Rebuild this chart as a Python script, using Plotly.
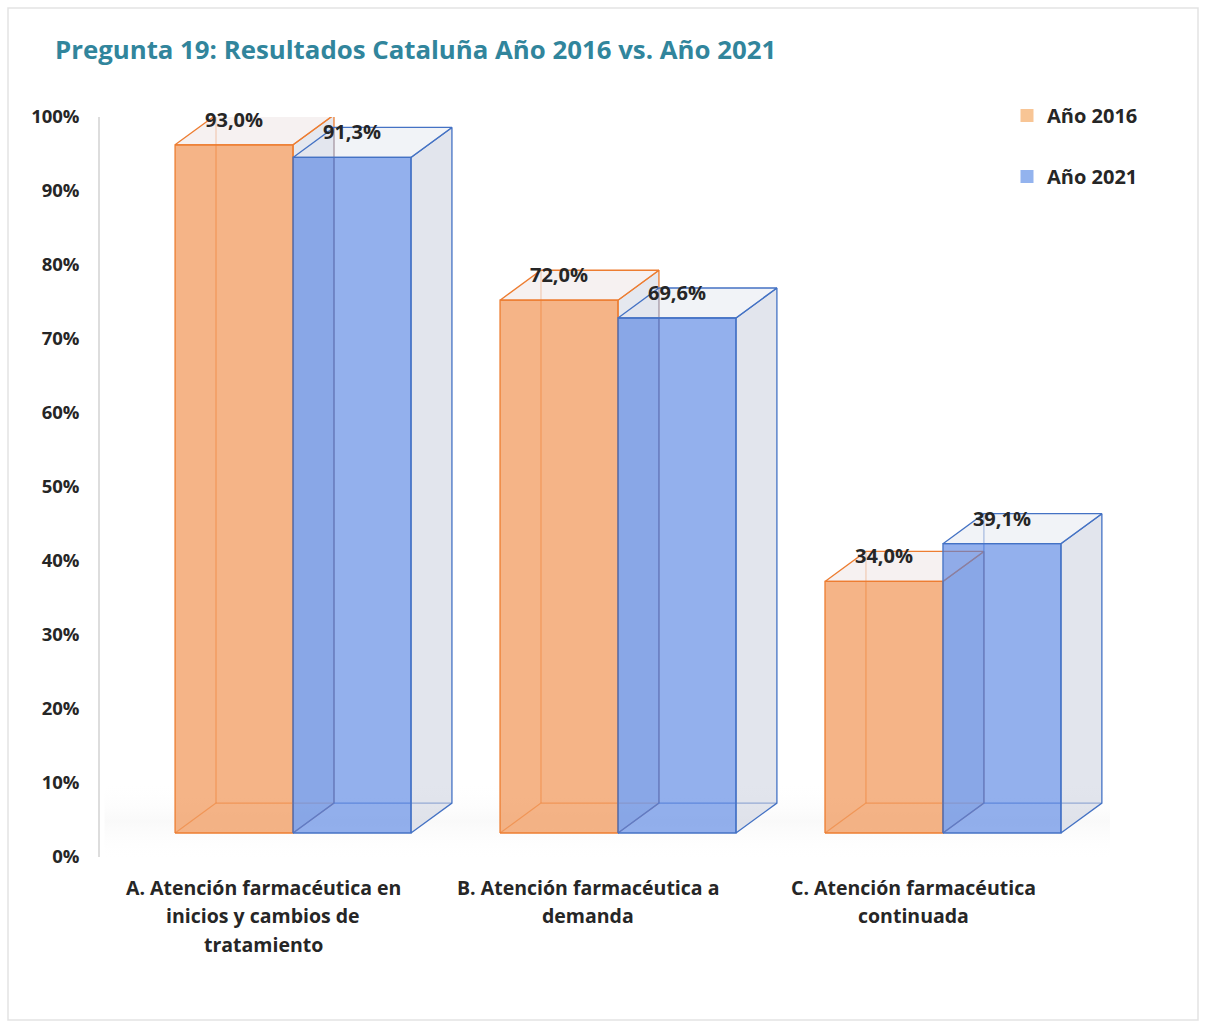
import plotly.graph_objects as go

# ---- data -------------------------------------------------------------
CATEGORY_LINES = [
    ["A. Atención farmacéutica en", "inicios y cambios de", "tratamiento"],
    ["B. Atención farmacéutica a", "demanda"],
    ["C. Atención farmacéutica", "continuada"],
]
SERIES_NAMES = ["Año 2016", "Año 2021"]
VALUES_2016 = [93.0, 72.0, 34.0]
VALUES_2021 = [91.3, 69.6, 39.1]
Y_TICKS = [0, 10, 20, 30, 40, 50, 60, 70, 80, 90, 100]

# ---- styling / 3D geometry (in axis units) ------------------------------
BAR_W = 0.363        # width of one front face
DEPTH_X = 0.126      # horizontal depth offset
DEPTH_Y = 4.05       # vertical depth offset (percentage points)
FLOOR = 3.24         # front faces sit slightly above the back wall's zero
LABEL_LIFT = 3.1
FONT = "Open Sans"
TEXT = "#262626"

PLOT_TOP, PLOT_BOTTOM, PLOT_LEFT, PLOT_RIGHT = 117, 857, 100, 1110
PLOT_H = PLOT_BOTTOM - PLOT_TOP
PLOT_W = PLOT_RIGHT - PLOT_LEFT

STYLES = [
    dict(offset=-BAR_W, edge="#ED7D31", front="rgba(237,125,49,0.58)",
         top="rgba(235,225,225,0.45)", side="rgba(190,198,215,0.40)",
         back="rgba(237,125,49,0.55)", legend="#F8C595"),
    dict(offset=0.0, edge="#4472C4", front="rgba(80,128,226,0.62)",
         top="rgba(225,228,238,0.45)", side="rgba(190,198,215,0.45)",
         back="rgba(68,114,196,0.75)", legend="#93B3EE"),
]

fig = go.Figure()

# soft floor shadow under the bars
fig.add_trace(go.Scatter(
    x=[-0.58, 2.75, 2.75, -0.58, -0.58],
    y=[FLOOR - 4.0, FLOOR - 4.0, FLOOR + DEPTH_Y + 3.0, FLOOR + DEPTH_Y + 3.0, FLOOR - 4.0],
    mode="lines", line=dict(width=0), fill="toself",
    fillgradient=dict(type="vertical",
                      colorscale=[[0, "rgba(255,255,255,0)"],
                                  [0.5, "rgba(215,215,215,0.14)"],
                                  [1, "rgba(255,255,255,0)"]]),
    hoverinfo="skip", showlegend=False,
))


def poly(xs, ys, fill, edge, width=1.3):
    fig.add_trace(go.Scatter(
        x=xs + [xs[0]], y=ys + [ys[0]], mode="lines", fill="toself",
        fillcolor=fill, line=dict(color=edge, width=width),
        hoverinfo="skip", showlegend=False,
    ))


def segs(points, color, width=1.2):
    xs, ys = [], []
    for (a, b) in points:
        xs += [a[0], b[0], None]
        ys += [a[1], b[1], None]
    fig.add_trace(go.Scatter(x=xs, y=ys, mode="lines",
                             line=dict(color=color, width=width),
                             hoverinfo="skip", showlegend=False))


for values, st in zip([VALUES_2016, VALUES_2021], STYLES):
    for i, v in enumerate(values):
        x0 = i + st["offset"]
        x1 = x0 + BAR_W
        y0 = FLOOR
        y1 = FLOOR + v
        # hidden back edges, seen through the translucent faces
        segs([((x0 + DEPTH_X, y0 + DEPTH_Y), (x0 + DEPTH_X, y1 + DEPTH_Y)),
              ((x0 + DEPTH_X, y0 + DEPTH_Y), (x1 + DEPTH_X, y0 + DEPTH_Y)),
              ((x0, y0), (x0 + DEPTH_X, y0 + DEPTH_Y))], st["back"])
        # right side face
        poly([x1, x1 + DEPTH_X, x1 + DEPTH_X, x1],
             [y0, y0 + DEPTH_Y, y1 + DEPTH_Y, y1], st["side"], st["edge"])
        # top face
        poly([x0, x0 + DEPTH_X, x1 + DEPTH_X, x1],
             [y1, y1 + DEPTH_Y, y1 + DEPTH_Y, y1], st["top"], st["edge"])
        # front face
        poly([x0, x1, x1, x0], [y0, y0, y1, y1], st["front"], st["edge"])

# value labels
for values, st in zip([VALUES_2016, VALUES_2021], STYLES):
    fig.add_trace(go.Scatter(
        x=[i + st["offset"] + BAR_W / 2 for i in range(len(values))],
        y=[FLOOR + v + LABEL_LIFT for v in values],
        text=[f"{v:.1f}%".replace(".", ",") for v in values],
        mode="text", textposition="middle center",
        textfont=dict(family=FONT, size=20, color=TEXT, weight="bold"),
        hoverinfo="skip", showlegend=False, cliponaxis=False,
    ))

# legend entries
for name, st in zip(SERIES_NAMES, STYLES):
    fig.add_trace(go.Scatter(
        x=[None], y=[None], mode="markers", name=name, legendgroup=name,
        marker=dict(symbol="square", size=13, color=st["legend"]),
    ))

# category labels, one annotation per line
for i, lines in enumerate(CATEGORY_LINES):
    for k, line in enumerate(lines):
        fig.add_annotation(
            x=i - 0.092, xref="x",
            y=-(887 + k * 28.5 - PLOT_BOTTOM) / PLOT_H, yref="paper",
            text=f"<b>{line}</b>", showarrow=False,
            font=dict(family=FONT, size=19.5, color=TEXT),
            xanchor="center", yanchor="middle",
        )

fig.update_layout(
    width=1206, height=1026,
    margin=dict(l=PLOT_LEFT, r=1206 - PLOT_RIGHT, t=PLOT_TOP, b=1026 - PLOT_BOTTOM),
    paper_bgcolor="white", plot_bgcolor="white",
    title=dict(text="<b>Pregunta 19: Resultados Cataluña Año 2016 vs. Año 2021</b>",
               x=55 / 1206, xanchor="left", xref="container",
               y=1 - 50 / 1026, yanchor="middle", yref="container",
               font=dict(family=FONT, size=25.8, color="#31859C")),
    legend=dict(x=(1007 - PLOT_LEFT) / PLOT_W, xanchor="left",
                y=1 + (PLOT_TOP - 96) / PLOT_H, yanchor="top",
                font=dict(family=FONT, size=20, color=TEXT, weight="bold"),
                tracegroupgap=32, traceorder="grouped", itemwidth=30,
                bgcolor="rgba(0,0,0,0)"),
    showlegend=True,
    xaxis=dict(range=[-0.594, 2.514], showgrid=False, zeroline=False,
               showticklabels=False, fixedrange=True),
    yaxis=dict(range=[0, 100], tickvals=Y_TICKS,
               ticktext=[f"<b>{t}%</b>" for t in Y_TICKS],
               showgrid=False, zeroline=False, showline=True,
               linecolor="#DDDDDD", linewidth=1.5,
               ticks="outside", ticklen=15, tickcolor="rgba(0,0,0,0)",
               tickfont=dict(family=FONT, size=18.5, color=TEXT)),
)

# light frame around the whole chart
fig.add_shape(type="rect", xref="paper", yref="paper",
              x0=-(PLOT_LEFT - 8) / PLOT_W,
              x1=1 + (1198 - PLOT_RIGHT) / PLOT_W,
              y0=-(1020 - PLOT_BOTTOM) / PLOT_H,
              y1=1 + (PLOT_TOP - 8) / PLOT_H,
              line=dict(color="#E3E3E3", width=1.5), layer="below")

fig.write_html("out.html")
